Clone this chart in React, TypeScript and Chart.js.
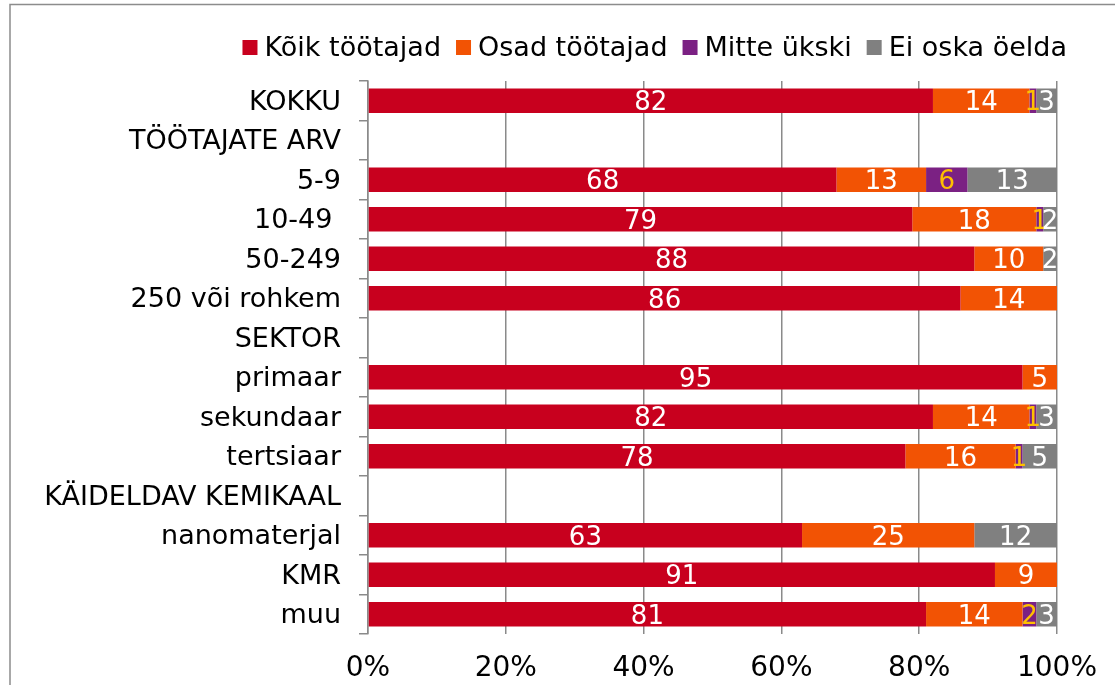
import React, { useEffect, useRef } from "react";
import { Chart, registerables } from "chart.js";

Chart.register(...registerables);

const categories = [
  "KOKKU",
  "TÖÖTAJATE ARV",
  "5-9",
  "10-49 ",
  "50-249",
  "250 või rohkem",
  "SEKTOR",
  "primaar",
  "sekundaar",
  "tertsiaar",
  "KÄIDELDAV KEMIKAAL",
  "nanomaterjal",
  "KMR",
  "muu",
];

const seriesNames = ["Kõik töötajad", "Osad töötajad", "Mitte ükski", "Ei oska öelda"];
const seriesColors = ["#C8001E", "#F25304", "#7B2183", "#808080"];
const labelColors = ["#FFFFFF", "#FFFFFF", "#FFC000", "#FFFFFF"];

const koikTootajad = [82, null, 68, 79, 88, 86, null, 95, 82, 78, null, 63, 91, 81];
const osadTootajad = [14, null, 13, 18, 10, 14, null, 5, 14, 16, null, 25, 9, 14];
const mitteUkski = [1, null, 6, 1, 0, 0, null, 0, 1, 1, null, 0, 0, 2];
const eiOskaOelda = [3, null, 13, 2, 2, 0, null, 0, 3, 5, null, 12, 0, 3];

const xTicks = [0, 20, 40, 60, 80, 100];

const FONT = "DejaVu Sans";

const borderPlugin = {
  id: "outerBorder",
  beforeDraw(chart: any) {
    const ctx = chart.ctx;
    ctx.save();
    ctx.fillStyle = "#FFFFFF";
    ctx.fillRect(0, 0, chart.width, chart.height);
    ctx.strokeStyle = "#8C8C8C";
    ctx.lineWidth = 1.5;
    ctx.strokeRect(10, 4.5, chart.width + 50, chart.height + 50);
    ctx.restore();
  },
};

const legendPlugin = {
  id: "customLegend",
  afterDraw(chart: any) {
    const ctx = chart.ctx;
    ctx.save();
    ctx.font = `27px ${FONT}`;
    ctx.textBaseline = "middle";
    const box = 15;
    const gapText = 7;
    const gapItem = 15;
    const widths = seriesNames.map((n) => ctx.measureText(n).width);
    let total = 0;
    widths.forEach((w, i) => {
      total += box + gapText + w + (i < widths.length - 1 ? gapItem : 0);
    });
    let x = 1067 - total;
    const cy = 47.5;
    seriesNames.forEach((n, i) => {
      ctx.fillStyle = seriesColors[i];
      ctx.fillRect(x, cy - box / 2, box, box);
      x += box + gapText;
      ctx.fillStyle = "#000000";
      ctx.textAlign = "left";
      ctx.fillText(n, x, cy + 1);
      x += widths[i] + gapItem;
    });
    ctx.restore();
  },
};

const valueLabelPlugin = {
  id: "valueLabels",
  afterDatasetsDraw(chart: any) {
    const ctx = chart.ctx;
    ctx.save();
    ctx.font = `26px ${FONT}`;
    ctx.textAlign = "center";
    ctx.textBaseline = "middle";
    chart.data.datasets.forEach((ds: any, di: number) => {
      const meta = chart.getDatasetMeta(di);
      meta.data.forEach((el: any, i: number) => {
        const v = ds.data[i];
        if (v === null || v === undefined || v === 0) return;
        const cx = (el.x + el.base) / 2;
        ctx.fillStyle = labelColors[di];
        ctx.fillText(String(v), cx, el.y + 2.5);
      });
    });
    ctx.restore();
  },
};

export default function App() {
  const ref = useRef<HTMLCanvasElement | null>(null);

  useEffect(() => {
    if (!ref.current) return;
    const data = [koikTootajad, osadTootajad, mitteUkski, eiOskaOelda];
    const chart = new Chart(ref.current, {
      type: "bar",
      data: {
        labels: categories,
        datasets: seriesNames.map((name, i) => ({
          label: name,
          data: data[i] as any,
          backgroundColor: seriesColors[i],
          borderWidth: 0,
          barPercentage: 0.62,
          categoryPercentage: 1,
        })),
      },
      options: {
        indexAxis: "y",
        responsive: false,
        animation: false,
        layout: { padding: { top: 81, right: 57, left: 0, bottom: 0 } },
        plugins: {
          legend: { display: false },
          tooltip: { enabled: false },
        },
        scales: {
          x: {
            stacked: true,
            min: 0,
            max: 100,
            afterBuildTicks(scale: any) {
              scale.ticks = xTicks.map((v) => ({ value: v }));
            },
            afterFit(scale: any) {
              scale.height = 51;
            },
            ticks: {
              callback: (v: any) => v + "%",
              color: "#000000",
              font: { family: FONT, size: 28 },
              padding: 18,
              maxRotation: 0,
            },
            grid: {
              color: "#8A8A8A",
              lineWidth: 1.5,
              drawTicks: false,
            },
            border: { display: false },
          },
          y: {
            stacked: true,
            afterFit(scale: any) {
              scale.width = 368;
            },
            ticks: {
              autoSkip: false,
              color: "#000000",
              font: { family: FONT, size: 27 },
              padding: 18,
              labelOffset: 2,
            },
            grid: {
              offset: true,
              drawOnChartArea: false,
              drawTicks: true,
              tickLength: 9,
              color: "#8A8A8A",
              lineWidth: 1.5,
            },
            border: { display: true, color: "#8A8A8A", width: 1.5 },
          },
        },
      },
      plugins: [borderPlugin, legendPlugin, valueLabelPlugin],
    });
    return () => chart.destroy();
  }, []);

  return (
    <div style={{ position: "absolute", left: 0, top: 0, width: 1115, height: 685 }}>
      <canvas ref={ref} width={1115} height={685} style={{ width: 1115, height: 685, display: "block" }} />
    </div>
  );
}
